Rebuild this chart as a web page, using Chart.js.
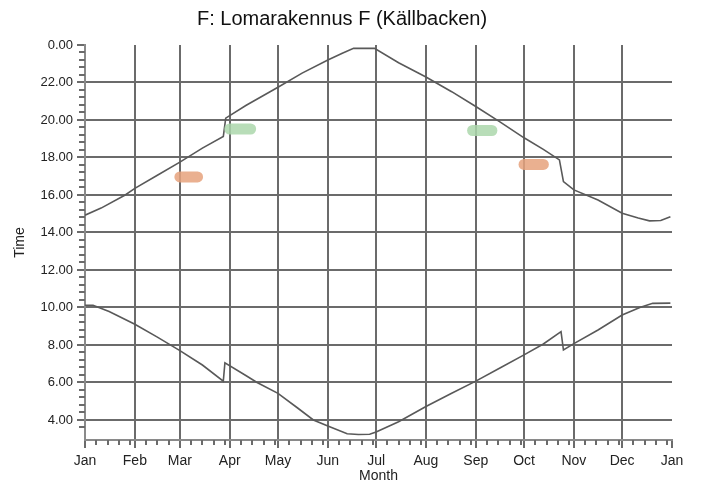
<!DOCTYPE html>
<html>
<head>
<meta charset="utf-8">
<script src="https://cdn.jsdelivr.net/npm/chart.js@4.4.1/dist/chart.umd.min.js"></script>
<style>
  html, body { margin: 0; padding: 0; background: #fff; }
  canvas { display: block; }
</style>
</head>
<body>
<canvas id="chart" width="701" height="485"></canvas>
<script>
// Month axis (day of year at the start of each month)
const monthLabels = ['Jan', 'Feb', 'Mar', 'Apr', 'May', 'Jun', 'Jul', 'Aug', 'Sep', 'Oct', 'Nov', 'Dec', 'Jan'];
const monthStartDays = [0, 31, 59, 90, 120, 151, 181, 212, 243, 273, 304, 334, 365];
const minorDaysInMonth = [7, 14, 21, 28];

// Time axis ticks (24 is shown as 0.00)
const timeTicks = [4, 6, 8, 10, 12, 14, 16, 18, 20, 22, 24];

// Upper curve (sunset)
const sunsetDays = [0, 10, 25, 31, 45, 59, 73, 86, 87.5, 100, 120, 135, 151, 160, 167, 180, 195, 212, 228, 243, 258, 273, 285, 295, 297.5, 304, 319, 334, 344, 351, 358, 364];
const sunsetTimes = [14.92, 15.3, 16.0, 16.35, 17.05, 17.75, 18.5, 19.12, 20.1, 20.77, 21.75, 22.5, 23.2, 23.56, 23.82, 23.82, 23.05, 22.29, 21.51, 20.72, 19.9, 19.05, 18.43, 17.87, 16.71, 16.27, 15.73, 15.03, 14.77, 14.62, 14.64, 14.84];

// Lower curve (sunrise)
const sunriseDays = [0, 5, 15, 31, 45, 59, 73, 86, 87, 100, 107, 120, 132, 142, 151, 163, 170, 177, 181, 195, 212, 228, 243, 258, 273, 285, 296, 297.5, 304, 319, 334, 345, 353, 364];
const sunriseTimes = [10.12, 10.12, 9.78, 9.1, 8.42, 7.7, 6.93, 6.07, 7.05, 6.37, 6.0, 5.42, 4.65, 4.0, 3.68, 3.26, 3.22, 3.24, 3.36, 3.9, 4.72, 5.42, 6.07, 6.77, 7.47, 8.05, 8.71, 7.73, 8.07, 8.8, 9.6, 10.0, 10.22, 10.23];

// Highlight marks: [startDay, endDay, time]
const greenMarks = [[90, 103, 19.52], [241, 253, 19.44]];
const orangeMarks = [[59, 70, 16.96], [273, 285, 17.63]];

const gridColor = '#6b6b6b';
const curveColor = '#595959';

Chart.defaults.font.family = '"Liberation Sans", Arial, sans-serif';
Chart.defaults.color = '#222';

const toPoints = (xs, ys) => xs.map((x, i) => ({ x, y: ys[i] }));

const markDataset = (mark, color) => ({
  data: [{ x: mark[0], y: mark[2] }, { x: mark[1], y: mark[2] }],
  borderColor: color,
  borderWidth: 11,
  borderCapStyle: 'round',
  pointRadius: 0,
  tension: 0
});

// Small minor ticks on both axes
const minorTicks = {
  id: 'minorTicks',
  afterDraw(chart) {
    const { ctx, scales: { x, y } } = chart;
    ctx.save();
    ctx.strokeStyle = gridColor;
    ctx.lineWidth = 2;
    ctx.beginPath();
    for (let m = 0; m < 12; m++) {
      minorDaysInMonth.forEach(d => {
        const day = monthStartDays[m] + d;
        if (day >= monthStartDays[m + 1] - 1) return;
        const px = Math.round(x.getPixelForValue(day));
        ctx.moveTo(px, y.bottom);
        ctx.lineTo(px, y.bottom + 5);
      });
    }
    for (let k = -1; k <= 50; k++) {
      if (k % 5 === 0) continue;
      const v = 4 + k * 0.4;
      if (v >= y.max) break;
      const py = Math.round(y.getPixelForValue(v));
      ctx.moveTo(x.left - 6, py);
      ctx.lineTo(x.left, py);
    }
    ctx.stroke();
    ctx.restore();
  }
};

new Chart(document.getElementById('chart'), {
  type: 'line',
  data: {
    datasets: [
      ...greenMarks.map(m => markDataset(m, 'rgba(172, 215, 172, 0.85)')),
      ...orangeMarks.map(m => markDataset(m, 'rgba(230, 162, 124, 0.85)')),
      {
        label: 'Sunset',
        data: toPoints(sunsetDays, sunsetTimes),
        borderColor: curveColor,
        borderWidth: 1.6,
        pointRadius: 0,
        tension: 0
      },
      {
        label: 'Sunrise',
        data: toPoints(sunriseDays, sunriseTimes),
        borderColor: curveColor,
        borderWidth: 1.6,
        pointRadius: 0,
        tension: 0
      }
    ]
  },
  options: {
    responsive: false,
    animation: false,
    devicePixelRatio: 1,
    layout: { padding: { left: 12, right: 29, top: 0, bottom: 0 } },
    plugins: {
      legend: { display: false },
      tooltip: { enabled: false },
      title: {
        display: true,
        text: 'F: Lomarakennus F (Källbacken)',
        color: '#111',
        font: { size: 20, weight: 'normal' },
        padding: { top: 7, bottom: 14 }
      }
    },
    scales: {
      x: {
        type: 'linear',
        min: 0,
        max: 365,
        afterBuildTicks: scale => { scale.ticks = monthStartDays.map(v => ({ value: v })); },
        afterFit: scale => { scale.height = 45; },
        ticks: {
          autoSkip: false,
          maxRotation: 0,
          padding: 5,
          font: { size: 14 },
          callback: (v, i) => monthLabels[i]
        },
        grid: {
          color: ctx => (ctx.index === 0 || ctx.index === monthStartDays.length - 1) ? 'rgba(0,0,0,0)' : gridColor,
          lineWidth: 2,
          tickLength: 8,
          tickColor: gridColor,
          tickWidth: 2
        },
        border: { display: true, color: '#8a8a8a', width: 2 },
        title: {
          display: true,
          text: 'Month',
          font: { size: 14 },
          padding: { top: 0, bottom: 0 }
        }
      },
      y: {
        type: 'linear',
        min: 2.93,
        max: 24,
        afterBuildTicks: scale => { scale.ticks = timeTicks.map(v => ({ value: v })); },
        afterFit: scale => { scale.width = 73; },
        ticks: {
          padding: 4,
          font: { size: 13 },
          callback: v => (v === 24 ? '0.00' : v.toFixed(2))
        },
        grid: {
          color: ctx => (ctx.tick && ctx.tick.value === 24) ? 'rgba(0,0,0,0)' : gridColor,
          lineWidth: 2,
          tickLength: 8,
          tickColor: gridColor,
          tickWidth: 2
        },
        border: { display: true, color: '#8a8a8a', width: 2 },
        title: {
          display: true,
          text: 'Time',
          font: { size: 14 },
          padding: { top: 0, bottom: 0 }
        }
      }
    }
  },
  plugins: [minorTicks]
});
</script>
</body>
</html>
